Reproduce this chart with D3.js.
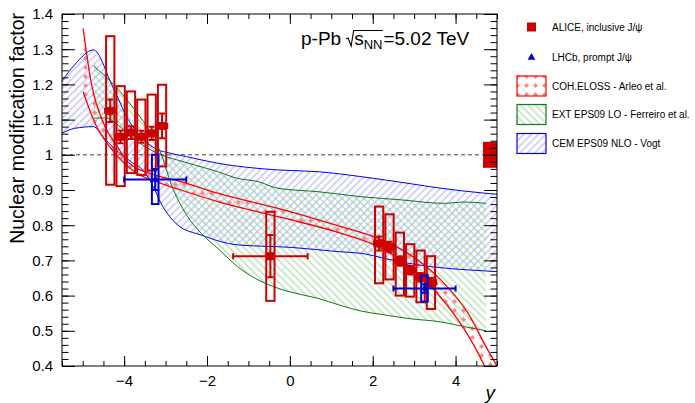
<!DOCTYPE html>
<html>
<head>
<meta charset="utf-8">
<script src="https://cdn.jsdelivr.net/npm/d3@7"></script>
<style>
  body { margin: 0; background: #fff; }
  text { font-family: "Liberation Sans", Arial, Helvetica, sans-serif; }
</style>
</head>
<body>
<svg id="chart" width="695" height="403"></svg>
<script>
// ALICE inclusive J/psi (y_cms bins)
var aliceY     = [-4.335, -4.085, -3.835, -3.585, -3.335, -3.085, -0.47, 2.155, 2.405, 2.655, 2.905, 3.155, 3.405];
var aliceXlo   = [-4.46, -4.21, -3.96, -3.71, -3.46, -3.21, -1.37, 2.03, 2.28, 2.53, 2.78, 3.03, 3.28];
var aliceXhi   = [-4.21, -3.96, -3.71, -3.46, -3.21, -2.96, 0.43, 2.28, 2.53, 2.78, 3.03, 3.28, 3.53];
var aliceR     = [1.125, 1.051, 1.063, 1.051, 1.061, 1.082, 0.712, 0.748, 0.738, 0.698, 0.672, 0.652, 0.638];
var aliceStat  = [0.032, 0.018, 0.018, 0.017, 0.019, 0.035, 0.06, 0.02, 0.015, 0.013, 0.012, 0.012, 0.013];
var aliceSysLo = [0.915, 0.911, 0.948, 0.943, 0.955, 0.967, 0.585, 0.635, 0.646, 0.600, 0.597, 0.581, 0.562];
var aliceSysHi = [1.337, 1.195, 1.180, 1.157, 1.171, 1.199, 0.838, 0.853, 0.831, 0.779, 0.746, 0.728, 0.712];
var aliceGlobal = 0.037;

// LHCb prompt J/psi
var lhcbY    = [-3.25, 3.25];
var lhcbXlo  = [-4.0, 2.5];
var lhcbXhi  = [-2.5, 4.0];
var lhcbR    = [0.93, 0.62];
var lhcbStat = [0.03, 0.012];
var lhcbSys  = [0.07, 0.037];

// COH.ELOSS - Arleo et al.
var cohUpper = [[-4.99,1.359],[-4.80,1.208],[-4.48,1.085],[-4.2,1.03],[-3.91,0.98],[-3.27,0.943],[-2.63,0.924],
                [-1.74,0.891],[-0.13,0.843],[1.24,0.796],[2.04,0.767],[2.85,0.72],[3.65,0.644],[4.30,0.55],[4.78,0.445],[5.0,0.40]];
var cohLower = [[-4.99,1.179],[-4.72,1.094],[-4.32,1.018],[-3.75,0.952],[-3.11,0.919],[-2.63,0.90],[-1.74,0.867],
                [-0.13,0.82],[1.24,0.777],[2.04,0.744],[2.85,0.687],[3.49,0.616],[4.06,0.531],[4.46,0.455],[4.70,0.40]];

// EXT EPS09 LO - Ferreiro et al. (edges cross near y = -3)
var extEdgeA = [[-4.74,1.253],[-4.24,1.198],[-3.83,1.141],[-3.43,1.075],[-3.1,1.0],[-2.86,0.915],[-2.5,0.83],[-2.14,0.777],
                [-1.7,0.73],[-1.26,0.682],[-0.77,0.645],[-0.29,0.621],[0.2,0.605],[0.68,0.592],[1.2,0.573],[1.72,0.556],
                [2.3,0.545],[2.85,0.535],[3.65,0.525],[4.2,0.512],[4.74,0.50]];
var extEdgeB = [[-4.74,1.104],[-4.45,1.105],[-4.1,1.08],[-3.7,1.04],[-3.3,1.01],[-3.0,0.995],[-2.71,0.985],[-2.2,0.968],
                [-1.74,0.952],[-1.26,0.933],[-0.77,0.924],[-0.29,0.905],[0.7,0.895],[1.72,0.881],[2.69,0.872],[3.73,0.862],
                [4.2,0.866],[4.74,0.862]];

// CEM EPS09 NLO - Vogt
var cemUpper = [[-5.5,1.21],[-5.2,1.255],[-4.74,1.298],[-4.3,1.20],[-3.9,1.10],[-3.5,1.04],[-3.2,1.015],[-2.9,1.005],
                [-2.5,0.995],[-1.74,0.976],[-0.29,0.957],[0.68,0.952],[1.72,0.938],[2.85,0.919],[3.65,0.905],[4.70,0.891],[5.0,0.888]];
var cemLower = [[-5.5,1.061],[-5.2,1.075],[-4.74,1.08],[-4.48,1.047],[-4.24,1.018],[-3.83,0.98],[-3.5,0.95],[-3.3,0.91],
                [-3.1,0.86],[-2.7,0.80],[-2.14,0.772],[-1.26,0.744],[0.03,0.737],[1.16,0.725],[1.72,0.72],[2.5,0.70],
                [3.41,0.682],[4.30,0.673],[5.0,0.668]];

var xMajor = [-4, -2, 0, 2, 4];
var yMajor = [0.4, 0.5, 0.6, 0.7, 0.8, 0.9, 1.0, 1.1, 1.2, 1.3, 1.4];

var legendLabels = ["ALICE, inclusive J/\u03c8", "LHCb, prompt J/\u03c8", "COH.ELOSS - Arleo et al.",
                    "EXT EPS09 LO - Ferreiro et al.", "CEM EPS09 NLO - Vogt"];

var pLeft = 62, pRight = 497, pTop = 14, pBottom = 366;
var svg = d3.select("#chart");

var x = d3.scaleLinear().domain([-5.5, 5]).range([pLeft, pRight]);
var y = d3.scaleLinear().domain([0.4, 1.4]).range([pBottom, pTop]);

var defs = svg.append("defs");
defs.append("clipPath").attr("id", "plotclip")
  .append("rect").attr("x", pLeft).attr("y", pTop).attr("width", pRight - pLeft).attr("height", pBottom - pTop);

function hatch(id, color, angle) {
  var p = defs.append("pattern").attr("id", id)
    .attr("patternUnits", "userSpaceOnUse")
    .attr("width", 5.2).attr("height", 5.2)
    .attr("patternTransform", "rotate(" + angle + ")");
  p.append("line").attr("x1", 2.6).attr("y1", -1).attr("x2", 2.6).attr("y2", 7)
    .attr("stroke", color).attr("stroke-width", 1);
}
hatch("hatchBlue", "#a8a8ff", 45);
hatch("hatchGreen", "#9ad29a", -45);

var ps = defs.append("pattern").attr("id", "stars")
  .attr("patternUnits", "userSpaceOnUse").attr("width", 9).attr("height", 9);
[0, 45, 90, 135].forEach(function(a) {
  var r = 2.4, t = a * Math.PI / 180;
  ps.append("line")
    .attr("x1", 4.5 - r * Math.cos(t)).attr("y1", 4.5 - r * Math.sin(t))
    .attr("x2", 4.5 + r * Math.cos(t)).attr("y2", 4.5 + r * Math.sin(t))
    .attr("stroke", "#ff8080").attr("stroke-width", 0.9);
});

var line = d3.line().x(function(d) { return x(d[0]); }).y(function(d) { return y(d[1]); })
  .curve(d3.curveMonotoneX);

function bandPath(a, b) {
  var pa = line(a);
  var pb = line(b.slice().reverse());
  return pa + "L" + pb.slice(1) + "Z";
}

var plot = svg.append("g").attr("clip-path", "url(#plotclip)");

var models = [
  { up: cemUpper, lo: cemLower, fill: "url(#hatchBlue)", stroke: "#0000ff" },
  { up: extEdgeA, lo: extEdgeB, fill: "url(#hatchGreen)", stroke: "#117711" },
  { up: cohUpper, lo: cohLower, fill: "url(#stars)", stroke: "#ff0000" }
];
models.forEach(function(m) {
  plot.append("path").attr("d", bandPath(m.up, m.lo)).attr("fill", m.fill).attr("stroke", "none");
});
models.forEach(function(m) {
  [m.up, m.lo].forEach(function(e) {
    plot.append("path").attr("d", line(e)).attr("fill", "none")
      .attr("stroke", m.stroke).attr("stroke-width", m.stroke == "#ff0000" ? 1.3 : 1);
  });
});

// unity line
plot.append("line").attr("x1", x(-5.5)).attr("x2", x(5)).attr("y1", y(1)).attr("y2", y(1))
  .attr("stroke", "#444").attr("stroke-width", 1).attr("stroke-dasharray", "4,3");

// ALICE global uncertainty
plot.append("rect").attr("x", x(5) - 14).attr("width", 14)
  .attr("y", y(1 + aliceGlobal)).attr("height", y(1 - aliceGlobal) - y(1 + aliceGlobal))
  .attr("fill", "#cc0000");

var red = "#cc0000", blue = "#0000cc";

function drawPoints(g, xs, xlo, xhi, val, stat, sysLo, sysHi, boxHalf, color, marker) {
  xs.forEach(function(xv, i) {
    g.append("rect")
      .attr("x", x(xv - boxHalf)).attr("width", x(xv + boxHalf) - x(xv - boxHalf))
      .attr("y", y(sysHi[i])).attr("height", y(sysLo[i]) - y(sysHi[i]))
      .attr("fill", "none").attr("stroke", color).attr("stroke-width", 2);
  });
  xs.forEach(function(xv, i) {
    var cx = x(xv), cy = y(val[i]);
    var y1 = y(val[i] + stat[i]), y2 = y(val[i] - stat[i]);
    var x1 = x(xlo[i]), x2 = x(xhi[i]);
    var seg = "M" + cx + "," + y1 + "V" + y2 +
      "M" + (cx - 3) + "," + y1 + "H" + (cx + 3) + "M" + (cx - 3) + "," + y2 + "H" + (cx + 3) +
      "M" + x1 + "," + cy + "H" + x2 +
      "M" + x1 + "," + (cy - 3) + "V" + (cy + 3) + "M" + x2 + "," + (cy - 3) + "V" + (cy + 3);
    g.append("path").attr("d", seg).attr("fill", "none").attr("stroke", color).attr("stroke-width", 2);
    if (marker == "square") {
      g.append("rect").attr("x", cx - 4).attr("y", cy - 4).attr("width", 8).attr("height", 8).attr("fill", color);
    } else {
      g.append("path").attr("d", d3.symbol(d3.symbolTriangle, 22)()).attr("transform", "translate(" + cx + "," + cy + ")")
        .attr("fill", color);
    }
  });
}

var data = svg.append("g");
drawPoints(data, aliceY, aliceXlo, aliceXhi, aliceR, aliceStat, aliceSysLo, aliceSysHi, 0.1, red, "square");
drawPoints(data, lhcbY, lhcbXlo, lhcbXhi, lhcbR, lhcbStat,
  lhcbR.map(function(v, i) { return v - lhcbSys[i]; }),
  lhcbR.map(function(v, i) { return v + lhcbSys[i]; }), 0.08, blue, "triangle");

// axes, ROOT style ticks pointing inwards
var xMinor = d3.range(-5.5, 5.01, 0.5);
var yMinor = d3.range(0.4, 1.401, 0.02);
var fmtY = d3.format(".1~f");

function styleAxis(g) {
  g.select(".domain").remove();
  g.selectAll("line").attr("stroke", "#000");
  g.selectAll("text").attr("fill", "#000").style("font-size", "15px")
    .style("font-family", "'Liberation Sans', Arial, Helvetica, sans-serif");
}

svg.append("g").attr("transform", "translate(0," + pBottom + ")")
  .call(d3.axisBottom(x).tickValues(xMajor).tickSize(-10).tickPadding(9.5).tickSizeOuter(0)).call(styleAxis);
svg.append("g").attr("transform", "translate(0," + pBottom + ")")
  .call(d3.axisBottom(x).tickValues(xMinor).tickSize(-5).tickFormat("").tickSizeOuter(0)).call(styleAxis);
svg.append("g").attr("transform", "translate(0," + pTop + ")")
  .call(d3.axisTop(x).tickValues(xMajor).tickSize(-10).tickFormat("").tickSizeOuter(0)).call(styleAxis);
svg.append("g").attr("transform", "translate(0," + pTop + ")")
  .call(d3.axisTop(x).tickValues(xMinor).tickSize(-5).tickFormat("").tickSizeOuter(0)).call(styleAxis);

svg.append("g").attr("transform", "translate(" + pLeft + ",0)")
  .call(d3.axisLeft(y).tickValues(yMajor).tickSize(-13).tickPadding(9).tickFormat(fmtY).tickSizeOuter(0)).call(styleAxis);
svg.append("g").attr("transform", "translate(" + pLeft + ",0)")
  .call(d3.axisLeft(y).tickValues(yMinor).tickSize(-6.5).tickFormat("").tickSizeOuter(0)).call(styleAxis);
svg.append("g").attr("transform", "translate(" + pRight + ",0)")
  .call(d3.axisRight(y).tickValues(yMajor).tickSize(-13).tickFormat("").tickSizeOuter(0)).call(styleAxis);
svg.append("g").attr("transform", "translate(" + pRight + ",0)")
  .call(d3.axisRight(y).tickValues(yMinor).tickSize(-6.5).tickFormat("").tickSizeOuter(0)).call(styleAxis);

svg.append("rect").attr("x", pLeft).attr("y", pTop).attr("width", pRight - pLeft).attr("height", pBottom - pTop)
  .attr("fill", "none").attr("stroke", "#000").attr("stroke-width", 1);

// axis titles
svg.append("text").attr("transform", "translate(24," + (pTop - 1) + ") rotate(-90)")
  .attr("text-anchor", "end").style("font-size", "19.5px").text("Nuclear modification factor");
svg.append("text").attr("x", pRight - 2).attr("y", 399).attr("text-anchor", "end")
  .style("font-size", "19px").style("font-style", "italic").text("y");

// energy label with square root
var lx = 301, ly = 45;
var t1 = svg.append("text").attr("x", lx).attr("y", ly).style("font-size", "19px").text("p-Pb");
var rx = lx + t1.node().getComputedTextLength() + 5;
var ts = svg.append("text").attr("x", rx + 8).attr("y", ly).style("font-size", "19px").text("s");
var nx = rx + 8 + ts.node().getComputedTextLength();
var tn = svg.append("text").attr("x", nx).attr("y", ly + 4).style("font-size", "13px").text("NN");
var ex = nx + tn.node().getComputedTextLength() + 0.5;
svg.append("path")
  .attr("d", "M" + rx + "," + (ly - 6) + "L" + (rx + 2) + "," + (ly - 7) + "L" + (rx + 5) + "," + (ly + 1) +
    "L" + (rx + 7.5) + "," + (ly - 14.5) + "H" + ex)
  .attr("fill", "none").attr("stroke", "#000").attr("stroke-width", 1.1);
svg.append("text").attr("x", ex + 0.5).attr("y", ly).style("font-size", "19px").text("=5.02 TeV");

// legend
var leg = svg.append("g");
var lgX = 517, lgText = 552;
var rowY = [27, 57.5, 86, 114.5, 143.5];
leg.append("rect").attr("x", 531.5 - 4.5).attr("y", rowY[0] - 4.5).attr("width", 9).attr("height", 9).attr("fill", red);
leg.append("path").attr("d", d3.symbol(d3.symbolTriangle, 26)()).attr("transform", "translate(531.5," + rowY[1] + ")")
  .attr("fill", blue);
[[ "url(#stars)", "#ff0000" ], [ "url(#hatchGreen)", "#117711" ], [ "url(#hatchBlue)", "#0000ff" ]].forEach(function(s, i) {
  leg.append("rect").attr("x", lgX).attr("y", rowY[i + 2] - 10).attr("width", 29).attr("height", 20)
    .attr("fill", s[0]).attr("stroke", s[1]).attr("stroke-width", 1.2);
});
legendLabels.forEach(function(l, i) {
  leg.append("text").attr("x", lgText).attr("y", rowY[i] + 3.5).style("font-size", "10px").text(l);
});
</script>
</body>
</html>
